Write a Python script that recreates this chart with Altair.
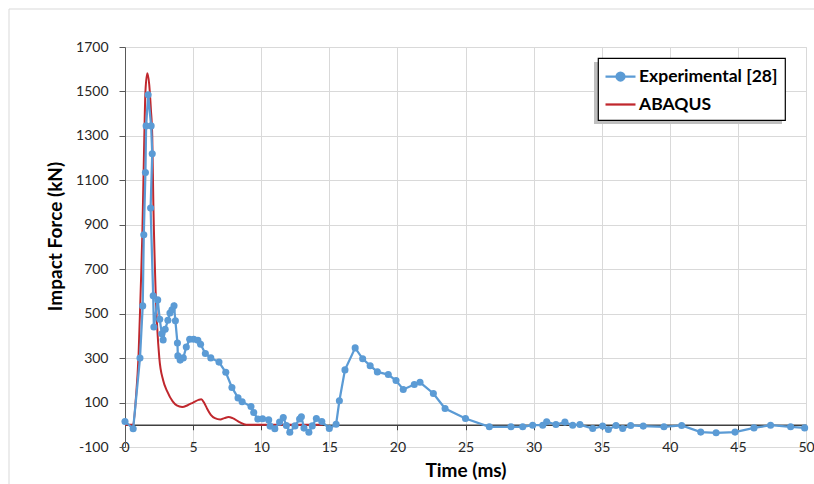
import altair as alt
import pandas as pd

# ---------------- data ----------------
exp_time = [0.0, 0.6, 1.1, 1.3, 1.38, 1.5, 1.55, 1.7, 1.92, 2.0, 1.88, 2.07, 2.12, 2.4, 2.55,
            2.7, 2.8, 2.95, 3.15, 3.3, 3.45, 3.6, 3.7, 3.85, 3.88, 4.05, 4.28, 4.5, 4.75,
            5.05, 5.35, 5.55, 5.9, 6.3, 6.9, 7.4, 7.85, 8.3, 8.6, 9.25, 9.45, 9.75, 10.1,
            10.55, 10.65, 11.0, 11.35, 11.62, 11.85, 12.1, 12.48, 12.82, 12.95, 13.14, 13.5,
            13.75, 14.05, 14.45, 15.0, 15.5, 15.74, 16.15, 16.9, 17.45, 18.0, 18.53, 19.33,
            19.9, 20.43, 21.24, 21.66, 22.64, 23.5, 25.0, 26.75, 28.34, 29.2, 29.93, 30.67,
            30.96, 31.64, 32.3, 32.87, 33.4, 34.34, 35.07, 35.49, 36.05, 36.54, 37.13, 38.05,
            39.57, 40.87, 42.27, 43.4, 44.79, 46.18, 47.4, 48.87, 49.9]
exp_force = [15, -18, 300, 535, 855, 1135, 1345, 1485, 1345, 1220, 975, 581, 440, 562, 475,
             410, 382, 430, 470, 503, 518, 536, 468, 368, 310, 291, 301, 350, 385,
             385, 380, 362, 321, 301, 282, 236, 168, 121, 104, 82, 55, 26, 27,
             22, -6, -18, 12, 33, -3, -34, -5, 26, 36, -15, -34,
             -5, 28, 15, -17, 2, 108, 247, 346, 297, 266, 238, 226,
             199, 159, 181, 191, 141, 73, 28, -9, -9, -9, -2, -2,
             14, 1, 12, -2, 1, -17, -6, -21, -3, -17, -3, -6,
             -9, -3, -33, -36, -33, -14, -2, -9, -14]

aba_time = [0.0, 0.6, 0.8, 1.0, 1.15, 1.27, 1.42, 1.5, 1.64, 1.78, 1.9, 2.0, 2.08, 2.25,
            2.52, 2.8, 3.1, 3.5, 3.8, 4.2, 4.6, 5.0, 5.4, 5.6, 5.8, 6.0, 6.3, 6.6, 7.0,
            7.3, 7.6, 7.9, 8.4, 8.9, 10.0, 12.0, 14.5]
aba_force = [0, 0, 120, 320, 600, 850, 1300, 1500, 1582, 1530, 1420, 1300, 1000, 600,
             300, 200, 150, 105, 87, 80, 88, 100, 112, 115, 100, 76, 45, 30, 24,
             30, 35, 30, 12, 0, 0, 0, 0]

series_names = ["Experimental [28]", "ABAQUS"]
series_colors = ["#5B9BD5", "#C0272D"]
x_ticks = [0, 5, 10, 15, 20, 25, 30, 35, 40, 45, 50]
y_ticks = [-100, 100, 300, 500, 700, 900, 1100, 1300, 1500, 1700]

# ---------------- tables ----------------
exp_df = pd.DataFrame({"t": exp_time, "f": exp_force,
                       "series": series_names[0], "idx": range(len(exp_time))})
aba_df = pd.DataFrame({"t": aba_time, "f": aba_force,
                       "series": series_names[1], "idx": range(len(aba_time))})

FONT = "Lato"
AXIS_GREY = "#595959"
GRID = "#d9d9d9"

x_enc = alt.X(
    "t:Q",
    scale=alt.Scale(domain=[0, 50], nice=False, zero=False),
    axis=alt.Axis(
        values=x_ticks, title="Time (ms)", offset=-22.25,
        domainColor="#404040", domainWidth=1.5,
        tickColor="#404040", tickSize=5, tickWidth=1,
        labelFont=FONT, labelFontSize=14, labelColor="#262626",
        labelBaseline="middle", labelPadding=18, labelFlush=False, labelOverlap=False,
        grid=True, gridColor=GRID, gridWidth=1,
        titleFont=FONT, titleFontSize=19, titleFontWeight="bold", titleColor="#000000",
        titleBaseline="middle", titleY=46,
    ),
)
y_enc = alt.Y(
    "f:Q",
    scale=alt.Scale(domain=[-100, 1700], nice=False, zero=False),
    axis=alt.Axis(
        values=y_ticks, title="Impact Force (kN)", labelExpr="'' + datum.value",
        domainColor=AXIS_GREY, domainWidth=1,
        tickColor=AXIS_GREY, tickSize=6, tickWidth=1,
        labelFont=FONT, labelFontSize=14, labelColor="#262626", labelPadding=11,
        labelOverlap=False, labelFlush=False,
        grid=True, gridColor=GRID, gridWidth=1,
        titleFont=FONT, titleFontSize=19, titleFontWeight="bold", titleColor="#000000",
        titleAngle=270, titleAlign="center", titleBaseline="middle",
        titleX=-70, titleY=189,
    ),
)

legend = alt.Legend(
    title=None, orient="none", legendX=473, legendY=11,
    fillColor="#ffffff", strokeColor="#000000",
    padding=7, rowPadding=8, labelOffset=7, symbolOffset=4,
    labelFont=FONT, labelFontSize=17.5, labelFontWeight="bold", labelColor="#000000",
    symbolSize=400, symbolStrokeWidth=2.25,
    symbolType={"expr": "datum.value === 'ABAQUS' ? 'M-1.5,0H1.5' : "
                        "'M-1.5,0H1.5M-0.4,0A0.4,0.4,0,1,1,0.4,0A0.4,0.4,0,1,1,-0.4,0Z'"},
    symbolFillColor={"expr": "datum.value === 'ABAQUS' ? 'transparent' : '#5B9BD5'"},
)
color = alt.Color("series:N",
                  scale=alt.Scale(domain=series_names, range=series_colors),
                  legend=legend)

# decorative pieces: legend shadow and chart-area border
shadow = alt.Chart(alt.Data(values=[{"k": 1}])).mark_rect(color="#bfbfbf").encode(
    x=alt.value(469), x2=alt.value(657), y=alt.value(15), y2=alt.value(77))
border_left = alt.Chart(alt.Data(values=[{"k": 1}])).mark_rule(color="#d9d9d9", strokeWidth=1).encode(
    x=alt.value(-116), y=alt.value(-38), y2=alt.value(440))
border_top = alt.Chart(alt.Data(values=[{"k": 1}])).mark_rule(color="#d9d9d9", strokeWidth=1).encode(
    x=alt.value(-116), x2=alt.value(700), y=alt.value(-38))

aba = alt.Chart(aba_df).mark_line(strokeWidth=2, interpolate="monotone").encode(
    x=x_enc, y=y_enc, color=color, order="idx:Q")
exp = alt.Chart(exp_df).mark_line(
    strokeWidth=2.25,
    point=alt.OverlayMarkDef(filled=True, size=50, opacity=1),
).encode(x=x_enc, y=y_enc, color=color, order="idx:Q")

chart = alt.layer(border_left, border_top, aba, exp, shadow).properties(
    width=681, height=400,
    padding={"left": 125, "top": 47, "right": 8, "bottom": 37},
    autosize=alt.AutoSizeParams(type="none"),
    background="#ffffff",
).configure_view(strokeWidth=0).configure(font=FONT).configure_legend(strokeWidth=1.2)

chart.save("out.html", embed_options={"renderer": "svg", "actions": False})
